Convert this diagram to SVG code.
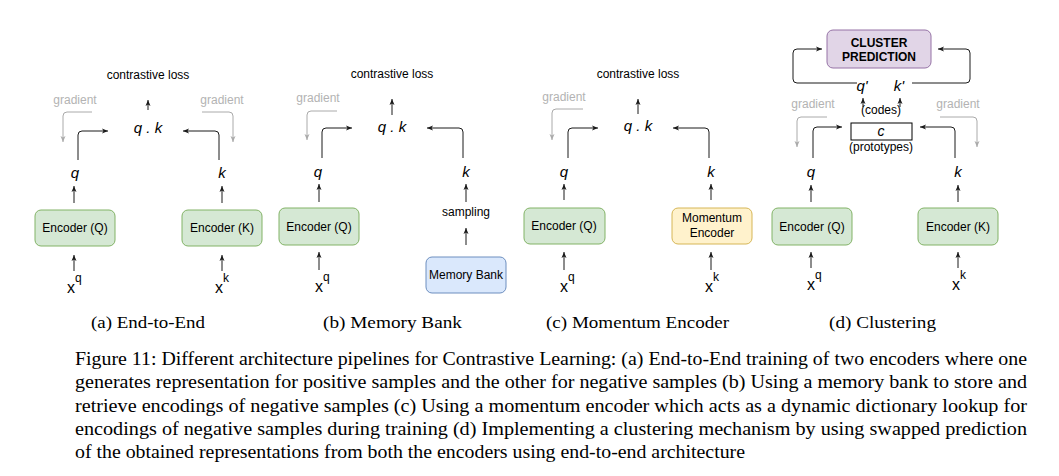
<svg xmlns="http://www.w3.org/2000/svg" width="1059" height="476" viewBox="0 0 1059 476">
<style>
text{font-family:"Liberation Sans",Arial,sans-serif;font-size:12px;fill:#000;text-anchor:middle}
.it{font-style:italic;font-size:15px}
.gr{fill:#b3b3b3}
.bold{font-weight:bold}
.x{font-size:16px;text-anchor:start}
.sup{font-size:12px}
.sub{font-family:"Liberation Serif","Times New Roman",serif;font-size:17.5px;text-anchor:start}
.fig{font-family:"Liberation Serif","Times New Roman",serif;font-size:19px;text-anchor:start}
.enc{fill:#d5e8d4;stroke:#82b366;stroke-width:1}
.mem{fill:#dae8fc;stroke:#6c8ebf;stroke-width:1}
.mom{fill:#fff2cc;stroke:#d6b656;stroke-width:1}
.clu{fill:#e1d5e7;stroke:#9673a6;stroke-width:1}
.cb{fill:#fff;stroke:#000;stroke-width:1}
.k{fill:none;stroke:#1a1a1a;stroke-width:1;marker-end:url(#ah)}
.g{fill:none;stroke:#aaaaaa;stroke-width:1;marker-end:url(#agr)}
</style>
<defs>
<marker id="ah" viewBox="0 0 6 6" refX="6" refY="3" markerWidth="6" markerHeight="6" markerUnits="userSpaceOnUse" orient="auto"><path d="M0,0.5 L6,3 L0,5.5 L1.5,3 z" fill="#1a1a1a"/></marker>
<marker id="agr" viewBox="0 0 6 6" refX="6" refY="3" markerWidth="6" markerHeight="6" markerUnits="userSpaceOnUse" orient="auto"><path d="M0,0.5 L6,3 L0,5.5 L1.5,3 z" fill="#aaaaaa"/></marker>
</defs>
<rect width="1059" height="476" fill="#fff"/>

<g id="connectors">
<!-- (a) -->
<path class="k" d="M148,110 L148,100"/>
<path class="g" d="M92,112 L67,112 Q63,112 63,116 L63,142"/>
<path class="g" d="M202,112 L229,112 Q233,112 233,116 L233,142"/>
<path class="k" d="M78,160 L78,135 Q78,131 82,131 L108,131"/>
<path class="k" d="M219,160 L219,135 Q219,131 215,131 L183,131"/>
<path class="k" d="M74,203 L74,186"/>
<path class="k" d="M222,203 L222,186"/>
<path class="k" d="M74,271 L74,255"/>
<path class="k" d="M222,271 L222,255"/>
<!-- (b) -->
<path class="k" d="M392,115 L392,99"/>
<path class="g" d="M337,111 L311,111 Q307,111 307,115 L307,140"/>
<path class="k" d="M322,158 L322,132 Q322,128 326,128 L352,128"/>
<path class="k" d="M463,158 L463,132 Q463,128 459,128 L427,128"/>
<path class="k" d="M319,202 L319,184"/>
<path class="k" d="M466,202 L466,184"/>
<path class="k" d="M466,245 L466,228"/>
<path class="k" d="M319,270 L319,252"/>
<!-- (c) -->
<path class="k" d="M638,114 L638,99"/>
<path class="g" d="M583,109 L556,109 Q552,109 552,113 L552,140"/>
<path class="k" d="M568,158 L568,132 Q568,128 572,128 L598,128"/>
<path class="k" d="M709,158 L709,132 Q709,128 705,128 L673,128"/>
<path class="k" d="M564,200 L564,184"/>
<path class="k" d="M711,200 L711,184"/>
<path class="k" d="M564,270 L564,252"/>
<path class="k" d="M711,270 L711,252"/>
<!-- (d) -->
<path class="k" d="M857,83 L797,83 Q793,83 793,79 L793,53 Q793,49 797,49 L822,49"/>
<path class="k" d="M912,83 L966,83 Q970,83 970,79 L970,53 Q970,49 966,49 L938,49"/>
<path class="k" d="M863,107 L863,98"/>
<path class="k" d="M900,107 L900,98"/>
<path class="g" d="M827,117 L801,117 Q797,117 797,121 L797,147"/>
<path class="g" d="M940,117 L973,117 Q977,117 977,121 L977,147"/>
<path class="k" d="M813,158 L813,131 Q813,127 817,127 L842,127"/>
<path class="k" d="M955,158 L955,131 Q955,127 951,127 L920,127"/>
<path class="k" d="M811,202 L811,185"/>
<path class="k" d="M958,202 L958,185"/>
<path class="k" d="M811,268 L811,252"/>
<path class="k" d="M958,268 L958,252"/>
</g>

<!-- Panel (a) -->
<g id="a-loss"><text x="148" y="79">contrastive loss</text></g>
<g id="a-qk"><text class="it" x="148" y="133">q . k</text></g>
<g id="a-grad-l"><text class="gr" x="75" y="104">gradient</text></g>
<g id="a-grad-r"><text class="gr" x="222" y="104">gradient</text></g>
<g id="a-q"><text class="it" x="75" y="178">q</text></g>
<g id="a-k"><text class="it" x="222" y="178">k</text></g>
<g id="a-encq"><rect class="enc" x="35" y="210" width="80" height="36" rx="6"/><text x="75" y="232">Encoder (Q)</text></g>
<g id="a-enck"><rect class="enc" x="182" y="210" width="80" height="36" rx="6"/><text x="222" y="232">Encoder (K)</text></g>
<g id="a-xq"><text class="x" x="67" y="293">x<tspan class="sup" dy="-11">q</tspan></text></g>
<g id="a-xk"><text class="x" x="215" y="293">x<tspan class="sup" dy="-11">k</tspan></text></g>

<!-- Panel (b) -->
<g id="b-loss"><text x="392" y="78">contrastive loss</text></g>
<g id="b-qk"><text class="it" x="392" y="132">q . k</text></g>
<g id="b-grad"><text class="gr" x="318" y="102">gradient</text></g>
<g id="b-q"><text class="it" x="318" y="177">q</text></g>
<g id="b-k"><text class="it" x="466" y="177">k</text></g>
<g id="b-encq"><rect class="enc" x="279" y="208" width="80" height="37" rx="6"/><text x="319" y="231">Encoder (Q)</text></g>
<g id="b-sampling"><text x="466" y="216">sampling</text></g>
<g id="b-mem"><rect class="mem" x="426" y="257" width="80" height="36" rx="6"/><text x="466" y="279">Memory Bank</text></g>
<g id="b-xq"><text class="x" x="315" y="292">x<tspan class="sup" dy="-11">q</tspan></text></g>

<!-- Panel (c) -->
<g id="c-loss"><text x="638" y="78">contrastive loss</text></g>
<g id="c-qk"><text class="it" x="638" y="131">q . k</text></g>
<g id="c-grad"><text class="gr" x="564" y="101">gradient</text></g>
<g id="c-q"><text class="it" x="564" y="177">q</text></g>
<g id="c-k"><text class="it" x="711" y="177">k</text></g>
<g id="c-encq"><rect class="enc" x="524" y="208" width="81" height="36" rx="6"/><text x="564" y="230">Encoder (Q)</text></g>
<g id="c-mom"><rect class="mom" x="672" y="208" width="80" height="36" rx="6"/><text x="712" y="222">Momentum</text><text x="712" y="237">Encoder</text></g>
<g id="c-xq"><text class="x" x="560" y="292">x<tspan class="sup" dy="-11">q</tspan></text></g>
<g id="c-xk"><text class="x" x="705" y="292">x<tspan class="sup" dy="-11">k</tspan></text></g>

<!-- Panel (d) -->
<g id="d-cluster"><rect class="clu" x="827" y="30" width="104" height="38" rx="6"/><text class="bold" x="879" y="47">CLUSTER</text><text class="bold" x="879" y="61">PREDICTION</text></g>
<g id="d-qp"><text class="it" x="862" y="91">q'</text></g>
<g id="d-kp"><text class="it" x="899" y="91">k'</text></g>
<g id="d-codes"><text x="881" y="114">(codes)</text></g>
<g id="d-c"><rect class="cb" x="851" y="123" width="61" height="17"/><text class="it" x="881" y="136" style="font-size:14px">c</text></g>
<g id="d-proto"><text x="881" y="151">(prototypes)</text></g>
<g id="d-grad-l"><text class="gr" x="813" y="108">gradient</text></g>
<g id="d-grad-r"><text class="gr" x="958" y="108">gradient</text></g>
<g id="d-q"><text class="it" x="811" y="177">q</text></g>
<g id="d-k"><text class="it" x="958" y="177">k</text></g>
<g id="d-encq"><rect class="enc" x="772" y="208" width="80" height="37" rx="6"/><text x="812" y="231">Encoder (Q)</text></g>
<g id="d-enck"><rect class="enc" x="918" y="208" width="80" height="37" rx="6"/><text x="958" y="231">Encoder (K)</text></g>
<g id="d-xq"><text class="x" x="807" y="290">x<tspan class="sup" dy="-11">q</tspan></text></g>
<g id="d-xk"><text class="x" x="952" y="290">x<tspan class="sup" dy="-11">k</tspan></text></g>

<!-- Sub-captions -->
<g id="subcaptions">
<text class="sub" x="91" y="328" textLength="114" lengthAdjust="spacingAndGlyphs">(a) End-to-End</text>
<text class="sub" x="323" y="328" textLength="139" lengthAdjust="spacingAndGlyphs">(b) Memory Bank</text>
<text class="sub" x="546" y="328" textLength="183" lengthAdjust="spacingAndGlyphs">(c) Momentum Encoder</text>
<text class="sub" x="829" y="328" textLength="107" lengthAdjust="spacingAndGlyphs">(d) Clustering</text>
</g>

<!-- Caption -->
<g id="caption">
<text class="fig" x="75" y="365" textLength="952" lengthAdjust="spacingAndGlyphs">Figure 11: Different architecture pipelines for Contrastive Learning: (a) End-to-End training of two encoders where one</text>
<text class="fig" x="75" y="388" textLength="952" lengthAdjust="spacingAndGlyphs">generates representation for positive samples and the other for negative samples (b) Using a memory bank to store and</text>
<text class="fig" x="75" y="412" textLength="952" lengthAdjust="spacingAndGlyphs">retrieve encodings of negative samples (c) Using a momentum encoder which acts as a dynamic dictionary lookup for</text>
<text class="fig" x="75" y="435" textLength="952" lengthAdjust="spacingAndGlyphs">encodings of negative samples during training (d) Implementing a clustering mechanism by using swapped prediction</text>
<text class="fig" x="75" y="458" textLength="670" lengthAdjust="spacingAndGlyphs">of the obtained representations from both the encoders using end-to-end architecture</text>
</g>
</svg>
